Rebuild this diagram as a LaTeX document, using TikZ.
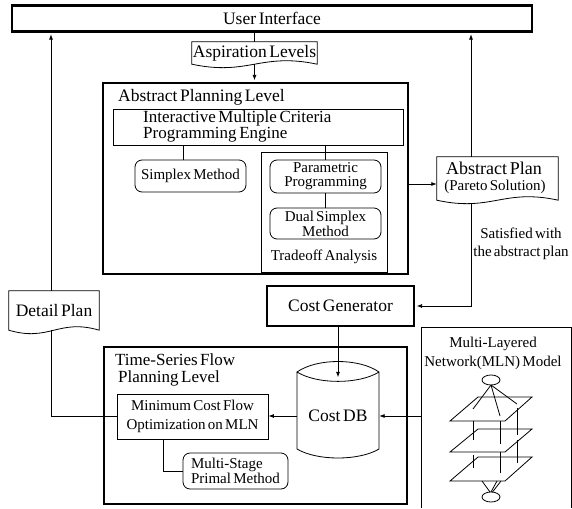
\documentclass[tikz,border=0pt]{standalone}
\usepackage{fontspec}
\setmainfont{Liberation Serif}[WordSpace=0.6]
\usetikzlibrary{arrows.meta,calc}
\newcommand\Lfont{\fontsize{17.5}{14.5}\selectfont}
\newcommand\Sfont{\fontsize{15}{14.5}\selectfont}
\tikzset{
  frame/.style={draw, line width=2.6pt, inner sep=0pt},
  box/.style={draw, line width=0.8pt, inner sep=0pt},
  rbox/.style={box, rounded corners=7pt},
  lbl/.style={inner sep=0pt},
  ln/.style={line width=0.8pt},
  arr/.style={ln, -{Latex[length=5.5pt,width=4pt]}},
  arrF/.style={arr, shorten >=1.3pt},
}
\newcommand\docoutline[1]{%
  \draw[ln] let \p1=(#1.north west), \p2=(#1.south east) in
    (\x1,\y1) -- (\x2,\y1) -- (\x2,\y2)
    .. controls ({\x2-0.45*(\x2-\x1)},{\y2+12pt}) and ({\x1+0.45*(\x2-\x1)},{\y2-12pt}) ..
    (\x1,\y2) -- cycle;}
\begin{document}
\begin{tikzpicture}[x=1pt,y=-1pt]
\useasboundingbox (0,0) rectangle (572,508);

% helper x positions
\coordinate (apx) at (471,0);
\coordinate (dpx) at (51,0);
\coordinate (smx) at (183,0);
\coordinate (msx) at (163,0);
\coordinate (apy) at (0,184);

% User interface
\node[frame, minimum width=520pt, minimum height=26pt, font=\Lfont] (ui) at (272,18.5) {User Interface};

% Aspiration levels
\node[lbl, minimum width=125pt, minimum height=22pt, font=\Lfont] (asp) at (254.5,53) {Aspiration Levels};
\docoutline{asp}

% Abstract planning level
\node[frame, minimum width=305pt, minimum height=191pt] (apl) at (255.5,178.5) {};
\node[lbl, anchor=west, font=\Lfont] (apllbl) at (118,97) {Abstract Planning Level};
\node[box, minimum width=290pt, minimum height=36pt] (imcp) at (258,127) {};
\node[lbl, anchor=west, align=left, font=\fontsize{17}{14.5}\selectfont] (imcptxt) at (143,126.5) {Interactive Multiple Criteria\\Programming Engine};
\node[rbox, minimum width=111pt, minimum height=32pt, font=\Sfont] (sm) at (190.5,176) {Simplex Method};
\node[box, minimum width=126pt, minimum height=120pt] (to) at (324,212) {};
\node[lbl, font=\Sfont] (tolbl) at (324,257) {Tradeoff Analysis};
\node[rbox, minimum width=111pt, minimum height=33pt, align=center, font=\fontsize{15}{14}\selectfont] (par) at (325.5,176.5) {Parametric\\Programming};
\node[rbox, minimum width=111pt, minimum height=31pt, align=center, font=\fontsize{15}{15}\selectfont] (dual) at (325.5,223.5) {Dual Simplex\\Method};

% Abstract plan document
\node[lbl, minimum width=121pt, minimum height=43pt] (ap) at (497.5,178.5) {};
\docoutline{ap}
\node[lbl, font=\fontsize{18}{18}\selectfont] (aptxt) at (494,168) {Abstract Plan};
\node[lbl, font=\Sfont] (apsub) at (495,186.5) {(Pareto Solution)};
\node[lbl, align=center, font=\fontsize{15}{18}\selectfont] (sat) at (521,244) {Satisfied with\\the abstract plan};

% Cost generator
\node[frame, minimum width=147pt, minimum height=40pt, font=\Lfont] (cg) at (340.5,306) {Cost Generator};

% Detail plan document
\node[lbl, minimum width=90pt, minimum height=39pt, font=\Lfont] (dp) at (54,310.5) {Detail Plan};
\docoutline{dp}

% Time-series flow planning level
\node[frame, minimum width=303pt, minimum height=157pt] (ts) at (255.5,425.5) {};
\node[lbl, anchor=west, align=left, font=\fontsize{17}{16.5}\selectfont] (tslbl) at (115,370) {Time-Series Flow\\\hspace*{3pt}Planning Level};
\node[box, minimum width=151pt, minimum height=45pt, align=center, font=\fontsize{15}{19}\selectfont] (mcf) at (192.5,416.5) {Minimum Cost Flow\\Optimization on MLN};
\node[rbox, minimum width=105pt, minimum height=36pt, align=left, font=\fontsize{15}{14.5}\selectfont] (ms) at (235.5,471) {Multi-Stage\\Primal Method};

% Cost DB cylinder
\node[lbl, minimum width=82pt, minimum height=77pt, font=\Lfont] (db) at (338,416) {Cost DB};
\draw[ln] (297,372) -- (297,449) .. controls (317,461) and (359,461) .. (379,449)
  -- (379,372) .. controls (359,358) and (317,358) .. (297,372)
  .. controls (317,384.5) and (359,384.5) .. (379,372);

% MLN model panel
\coordinate (mlnBL) at (421,508);
\coordinate (mlnTL) at (421,327);
\coordinate (mlnTR) at (571,327);
\coordinate (mlnBR) at (571,508);
\coordinate (mlnL) at (421,416);
\draw[ln] (mlnBL) -- (mlnTL) -- (mlnTR) -- (mlnBR);
\node[lbl, align=center, font=\fontsize{15}{19}\selectfont] (mlnlbl) at (493,353.5) {Multi-Layered\\Network(MLN) Model};
% layered network drawing
\draw[ln] (491,380) ellipse [x radius=9pt, y radius=5pt];
\draw[ln] (491,497) ellipse [x radius=9pt, y radius=5pt];
\draw[ln] (450,421) -- (505,421) -- (532,397) -- (478,397) -- cycle;
\draw[ln] (450,452) -- (505,452) -- (532,429) -- (478,429) -- cycle;
\draw[ln] (450,481) -- (505,481) -- (532,457) -- (478,457) -- cycle;
\draw[ln] (491,385) -- (473,409);
\draw[ln] (491,385) -- (500,416);
\draw[ln] (491,385) -- (517,404);
\draw[ln] (473,421) -- (473,440) (473,455) -- (473,468);
\draw[ln] (500,421) -- (500,444) (500,452) -- (500,473);
\draw[ln] (517,408) -- (517,435) (517,440) -- (517,463);
\draw[ln] (482,481) -- (490,492);
\draw[ln] (497,481) -- (491,492);
\draw[ln] (501,481) -- (492.5,492);

% connectors
\draw[ln] (ui.south -| asp.north) -- (asp.north);
\draw[arrF] (asp.south) -- (asp.south |- apl.north);
\draw[ln] (imcp.south -| smx) -- (sm.north -| smx);
\draw[ln] (imcp.south -| par.north) -- (par.north);
\draw[ln] (par.south) -- (dual.north);
\draw[arr] (apl.east |- apy) -- (ap.west |- apy);
\draw[arrF] (ap.north -| apx) -- (ui.south -| apx);
\draw[arrF] ($(ap.south -| apx)+(0,3)$) |- (cg.east);
\draw[arr] (cg.south -| db.north) -- (db.north);
\draw[arr] (db.west) -- (db.west -| mcf.east);
\draw[arr] (mlnL) -- (db.east);
\draw[arrF] (dp.north -| dpx) -- (ui.south -| dpx);
\draw[ln] (dp.south -| dpx) |- (mcf.west);
\draw[ln] (mcf.south -| msx) |- (ms.west);
\end{tikzpicture}
\end{document}
